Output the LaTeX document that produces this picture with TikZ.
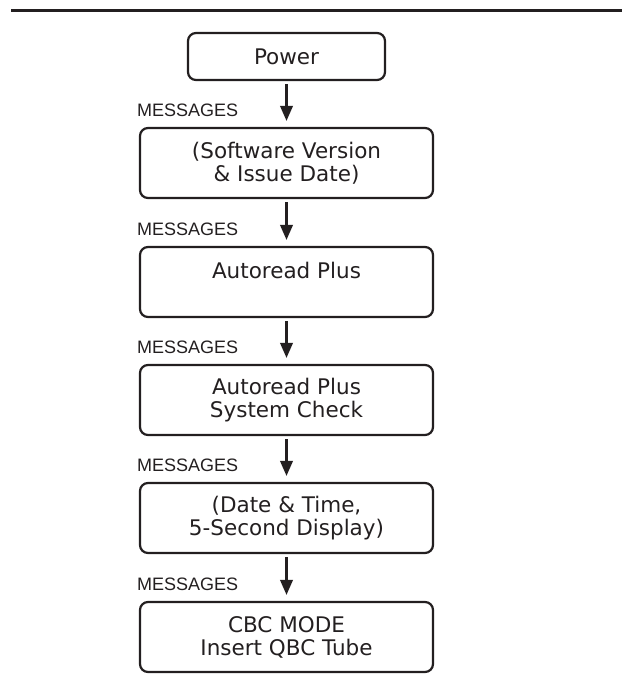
\documentclass[tikz,border=0pt]{standalone}
\usepackage{fontspec}
\setmainfont{DejaVu Sans}
\newfontfamily\msgfont{Liberation Sans}
\usetikzlibrary{arrows.meta}
\definecolor{ink}{HTML}{231F20}
\begin{document}
\begin{tikzpicture}[x=1pt,y=-1pt,
  box/.style={draw=ink, line width=2.2pt, rounded corners=8pt, align=center,
    minimum width=293pt, minimum height=70pt, inner sep=0pt,
    font=\fontsize{21.5}{23}\selectfont, text=ink},
  pbox/.style={box, minimum width=197pt, minimum height=47pt},
  arr/.style={draw=ink, line width=2.2pt, -{Triangle[length=15pt,width=12.5pt]},
    shorten <=3pt, shorten >=6pt},
  msg/.style={anchor=base west, inner sep=0pt, font=\msgfont\fontsize{18}{20}\selectfont, text=ink}]
\useasboundingbox (0,0) rectangle (624,683);
\coordinate (rl) at (11,10);
\coordinate (rr) at (622,10);
\draw[ink, line width=3pt] (rl) -- (rr);
\node[pbox] (p) at (286.5,56.5) {Power};
\node[box] (b1) at (286.5,163) {(Software Version\\\& Issue Date)};
\node[box] (b2) at (286.5,282) {Autoread Plus\\~};
\node[box] (b3) at (286.5,400) {Autoread Plus\\System Check};
\node[box] (b4) at (286.5,518) {(Date \& Time,\\5-Second Display)};
\node[box] (b5) at (286.5,637) {CBC MODE\\Insert QBC Tube};
\foreach \a/\b/\m in {p/b1/m1,b1/b2/m2,b2/b3/m3,b3/b4/m4,b4/b5/m5}{
  \draw[arr] (\a) -- (\b);
  \node[msg] (\m) at ([xshift=-149.5pt,yshift=10pt]\b.north) {MESSAGES};
}
\end{tikzpicture}
\end{document}
